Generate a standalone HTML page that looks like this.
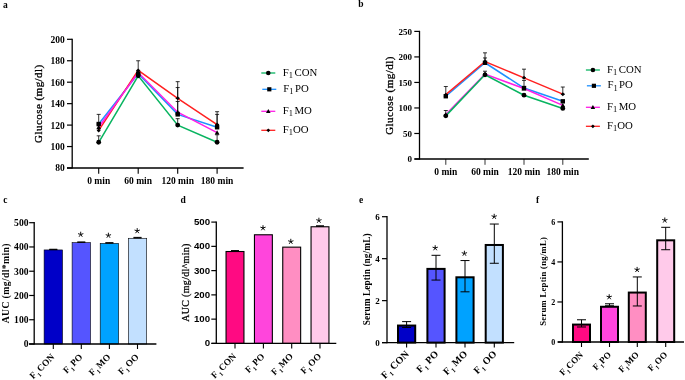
<!DOCTYPE html>
<html><head><meta charset="utf-8"><style>
html,body{margin:0;padding:0;background:#fff;width:685px;height:380px;overflow:hidden}
svg{display:block;will-change:transform;filter:blur(0.3px)}
</style></head><body>
<svg width="685" height="380" viewBox="0 0 685 380">
<rect width="685" height="380" fill="#fff"/>
<line x1="72.20" y1="38.70" x2="72.20" y2="168.60" stroke="#000" stroke-width="1.3" />
<line x1="67.00" y1="168.00" x2="243.60" y2="168.00" stroke="#000" stroke-width="1.3" />
<line x1="67.00" y1="168.00" x2="72.20" y2="168.00" stroke="#000" stroke-width="1.2" />
<text x="64.80" y="171.40" font-family='"Liberation Serif", serif' font-size="9.5" font-weight="bold" text-anchor="end" fill="#000" >80</text>
<line x1="67.00" y1="146.55" x2="72.20" y2="146.55" stroke="#000" stroke-width="1.2" />
<text x="64.80" y="149.95" font-family='"Liberation Serif", serif' font-size="9.5" font-weight="bold" text-anchor="end" fill="#000" >100</text>
<line x1="67.00" y1="125.10" x2="72.20" y2="125.10" stroke="#000" stroke-width="1.2" />
<text x="64.80" y="128.50" font-family='"Liberation Serif", serif' font-size="9.5" font-weight="bold" text-anchor="end" fill="#000" >120</text>
<line x1="67.00" y1="103.65" x2="72.20" y2="103.65" stroke="#000" stroke-width="1.2" />
<text x="64.80" y="107.05" font-family='"Liberation Serif", serif' font-size="9.5" font-weight="bold" text-anchor="end" fill="#000" >140</text>
<line x1="67.00" y1="82.20" x2="72.20" y2="82.20" stroke="#000" stroke-width="1.2" />
<text x="64.80" y="85.60" font-family='"Liberation Serif", serif' font-size="9.5" font-weight="bold" text-anchor="end" fill="#000" >160</text>
<line x1="67.00" y1="60.75" x2="72.20" y2="60.75" stroke="#000" stroke-width="1.2" />
<text x="64.80" y="64.15" font-family='"Liberation Serif", serif' font-size="9.5" font-weight="bold" text-anchor="end" fill="#000" >180</text>
<line x1="67.00" y1="39.30" x2="72.20" y2="39.30" stroke="#000" stroke-width="1.2" />
<text x="64.80" y="42.70" font-family='"Liberation Serif", serif' font-size="9.5" font-weight="bold" text-anchor="end" fill="#000" >200</text>
<line x1="98.70" y1="168.00" x2="98.70" y2="173.80" stroke="#000" stroke-width="1.1" />
<text x="98.70" y="183.60" font-family='"Liberation Serif", serif' font-size="9.5" font-weight="bold" text-anchor="middle" fill="#000" >0 min</text>
<line x1="138.20" y1="168.00" x2="138.20" y2="173.80" stroke="#000" stroke-width="1.1" />
<text x="138.20" y="183.60" font-family='"Liberation Serif", serif' font-size="9.5" font-weight="bold" text-anchor="middle" fill="#000" >60 min</text>
<line x1="177.70" y1="168.00" x2="177.70" y2="173.80" stroke="#000" stroke-width="1.1" />
<text x="177.70" y="183.60" font-family='"Liberation Serif", serif' font-size="9.5" font-weight="bold" text-anchor="middle" fill="#000" >120 min</text>
<line x1="217.10" y1="168.00" x2="217.10" y2="173.80" stroke="#000" stroke-width="1.1" />
<text x="217.10" y="183.60" font-family='"Liberation Serif", serif' font-size="9.5" font-weight="bold" text-anchor="middle" fill="#000" >180 min</text>
<text x="41.80" y="103.60" font-family='"Liberation Serif", serif' font-size="11.0" font-weight="normal" text-anchor="middle" fill="#000" transform="rotate(-90 41.8 103.6)" letter-spacing="0.45" stroke="#000" stroke-width="0.3">Glucose (mg/dl)</text>
<line x1="98.70" y1="135.82" x2="98.70" y2="142.26" stroke="#000" stroke-width="0.8" />
<line x1="96.70" y1="135.82" x2="100.70" y2="135.82" stroke="#000" stroke-width="0.8" />
<line x1="96.70" y1="142.26" x2="100.70" y2="142.26" stroke="#000" stroke-width="0.8" />
<line x1="138.20" y1="75.77" x2="138.20" y2="75.77" stroke="#000" stroke-width="0.8" />
<line x1="136.20" y1="75.77" x2="140.20" y2="75.77" stroke="#000" stroke-width="0.8" />
<line x1="136.20" y1="75.77" x2="140.20" y2="75.77" stroke="#000" stroke-width="0.8" />
<line x1="177.70" y1="118.66" x2="177.70" y2="125.10" stroke="#000" stroke-width="0.8" />
<line x1="175.70" y1="118.66" x2="179.70" y2="118.66" stroke="#000" stroke-width="0.8" />
<line x1="175.70" y1="125.10" x2="179.70" y2="125.10" stroke="#000" stroke-width="0.8" />
<line x1="217.10" y1="134.75" x2="217.10" y2="142.26" stroke="#000" stroke-width="0.8" />
<line x1="215.10" y1="134.75" x2="219.10" y2="134.75" stroke="#000" stroke-width="0.8" />
<line x1="215.10" y1="142.26" x2="219.10" y2="142.26" stroke="#000" stroke-width="0.8" />
<line x1="98.70" y1="114.38" x2="98.70" y2="124.03" stroke="#000" stroke-width="0.8" />
<line x1="96.70" y1="114.38" x2="100.70" y2="114.38" stroke="#000" stroke-width="0.8" />
<line x1="96.70" y1="124.03" x2="100.70" y2="124.03" stroke="#000" stroke-width="0.8" />
<line x1="138.20" y1="73.62" x2="138.20" y2="73.62" stroke="#000" stroke-width="0.8" />
<line x1="136.20" y1="73.62" x2="140.20" y2="73.62" stroke="#000" stroke-width="0.8" />
<line x1="136.20" y1="73.62" x2="140.20" y2="73.62" stroke="#000" stroke-width="0.8" />
<line x1="177.70" y1="101.51" x2="177.70" y2="114.38" stroke="#000" stroke-width="0.8" />
<line x1="175.70" y1="101.51" x2="179.70" y2="101.51" stroke="#000" stroke-width="0.8" />
<line x1="175.70" y1="114.38" x2="179.70" y2="114.38" stroke="#000" stroke-width="0.8" />
<line x1="217.10" y1="114.38" x2="217.10" y2="127.25" stroke="#000" stroke-width="0.8" />
<line x1="215.10" y1="114.38" x2="219.10" y2="114.38" stroke="#000" stroke-width="0.8" />
<line x1="215.10" y1="127.25" x2="219.10" y2="127.25" stroke="#000" stroke-width="0.8" />
<line x1="177.70" y1="87.56" x2="177.70" y2="112.23" stroke="#000" stroke-width="0.8" />
<line x1="175.70" y1="87.56" x2="179.70" y2="87.56" stroke="#000" stroke-width="0.8" />
<line x1="175.70" y1="112.23" x2="179.70" y2="112.23" stroke="#000" stroke-width="0.8" />
<line x1="138.20" y1="60.75" x2="138.20" y2="70.40" stroke="#000" stroke-width="0.8" />
<line x1="136.20" y1="60.75" x2="140.20" y2="60.75" stroke="#000" stroke-width="0.8" />
<line x1="136.20" y1="70.40" x2="140.20" y2="70.40" stroke="#000" stroke-width="0.8" />
<line x1="177.70" y1="81.66" x2="177.70" y2="98.29" stroke="#000" stroke-width="0.8" />
<line x1="175.70" y1="81.66" x2="179.70" y2="81.66" stroke="#000" stroke-width="0.8" />
<line x1="175.70" y1="98.29" x2="179.70" y2="98.29" stroke="#000" stroke-width="0.8" />
<line x1="217.10" y1="111.69" x2="217.10" y2="124.56" stroke="#000" stroke-width="0.8" />
<line x1="215.10" y1="111.69" x2="219.10" y2="111.69" stroke="#000" stroke-width="0.8" />
<line x1="215.10" y1="124.56" x2="219.10" y2="124.56" stroke="#000" stroke-width="0.8" />
<polyline points="98.70,124.03 138.20,73.62 177.70,114.38 217.10,127.25" fill="none" stroke="#1e90ff" stroke-width="1.5"/>
<polyline points="98.70,130.46 138.20,70.40 177.70,98.29 217.10,124.56" fill="none" stroke="#ff2020" stroke-width="1.5"/>
<polyline points="98.70,127.25 138.20,72.55 177.70,112.23 217.10,132.61" fill="none" stroke="#ff1ee6" stroke-width="1.5"/>
<polyline points="98.70,142.26 138.20,75.77 177.70,125.10 217.10,142.26" fill="none" stroke="#08b460" stroke-width="1.5"/>
<circle cx="98.70" cy="142.26" r="2.40" fill="#000"/>
<circle cx="138.20" cy="75.77" r="2.40" fill="#000"/>
<circle cx="177.70" cy="125.10" r="2.40" fill="#000"/>
<circle cx="217.10" cy="142.26" r="2.40" fill="#000"/>
<path d="M98.70,124.84 L101.10,129.16 L96.30,129.16 Z" fill="#000"/>
<path d="M138.20,70.15 L140.60,74.47 L135.80,74.47 Z" fill="#000"/>
<path d="M177.70,109.83 L180.10,114.15 L175.30,114.15 Z" fill="#000"/>
<path d="M217.10,130.21 L219.50,134.53 L214.70,134.53 Z" fill="#000"/>
<rect x="96.50" y="121.83" width="4.40" height="4.40" fill="#000"/>
<rect x="136.00" y="71.42" width="4.40" height="4.40" fill="#000"/>
<rect x="175.50" y="112.17" width="4.40" height="4.40" fill="#000"/>
<rect x="214.90" y="125.05" width="4.40" height="4.40" fill="#000"/>
<path d="M98.70,128.46 L100.70,130.46 L98.70,132.46 L96.70,130.46 Z" fill="#000"/>
<path d="M138.20,68.40 L140.20,70.40 L138.20,72.40 L136.20,70.40 Z" fill="#000"/>
<path d="M177.70,96.29 L179.70,98.29 L177.70,100.29 L175.70,98.29 Z" fill="#000"/>
<path d="M217.10,122.56 L219.10,124.56 L217.10,126.56 L215.10,124.56 Z" fill="#000"/>
<line x1="261.30" y1="73.00" x2="275.30" y2="73.00" stroke="#08b460" stroke-width="1.3" />
<circle cx="268.30" cy="73.00" r="2.28" fill="#000"/>
<text x="282.80" y="75.60" font-family='"Liberation Serif", serif' font-size="10.8">F<tspan font-size="8.42" dy="2.5">1</tspan><tspan dy="-2.5" dx="1.5">CON</tspan></text>
<line x1="262.30" y1="89.30" x2="276.30" y2="89.30" stroke="#1e90ff" stroke-width="1.3" />
<rect x="267.21" y="87.21" width="4.18" height="4.18" fill="#000"/>
<text x="283.20" y="91.90" font-family='"Liberation Serif", serif' font-size="10.8">F<tspan font-size="8.42" dy="2.5">1</tspan><tspan dy="-2.5" dx="1.5">PO</tspan></text>
<line x1="261.30" y1="111.30" x2="275.30" y2="111.30" stroke="#ff1ee6" stroke-width="1.3" />
<path d="M268.30,109.02 L270.58,113.12 L266.02,113.12 Z" fill="#000"/>
<text x="282.80" y="113.90" font-family='"Liberation Serif", serif' font-size="10.8">F<tspan font-size="8.42" dy="2.5">1</tspan><tspan dy="-2.5" dx="1.5">MO</tspan></text>
<line x1="261.30" y1="130.30" x2="275.30" y2="130.30" stroke="#ff2020" stroke-width="1.3" />
<path d="M268.30,128.40 L270.20,130.30 L268.30,132.20 L266.40,130.30 Z" fill="#000"/>
<text x="282.80" y="132.90" font-family='"Liberation Serif", serif' font-size="10.8">F<tspan font-size="8.42" dy="2.5">1</tspan><tspan dy="-2.5">OO</tspan></text>
<line x1="419.50" y1="30.80" x2="419.50" y2="159.60" stroke="#000" stroke-width="1.3" />
<line x1="414.50" y1="159.00" x2="588.80" y2="159.00" stroke="#000" stroke-width="1.3" />
<line x1="414.30" y1="159.00" x2="419.50" y2="159.00" stroke="#000" stroke-width="1.2" />
<text x="412.10" y="162.40" font-family='"Liberation Serif", serif' font-size="9.0" font-weight="bold" text-anchor="end" fill="#000" >0</text>
<line x1="414.30" y1="133.48" x2="419.50" y2="133.48" stroke="#000" stroke-width="1.2" />
<text x="412.10" y="136.88" font-family='"Liberation Serif", serif' font-size="9.0" font-weight="bold" text-anchor="end" fill="#000" >50</text>
<line x1="414.30" y1="107.96" x2="419.50" y2="107.96" stroke="#000" stroke-width="1.2" />
<text x="412.10" y="111.36" font-family='"Liberation Serif", serif' font-size="9.0" font-weight="bold" text-anchor="end" fill="#000" >100</text>
<line x1="414.30" y1="82.44" x2="419.50" y2="82.44" stroke="#000" stroke-width="1.2" />
<text x="412.10" y="85.84" font-family='"Liberation Serif", serif' font-size="9.0" font-weight="bold" text-anchor="end" fill="#000" >150</text>
<line x1="414.30" y1="56.92" x2="419.50" y2="56.92" stroke="#000" stroke-width="1.2" />
<text x="412.10" y="60.32" font-family='"Liberation Serif", serif' font-size="9.0" font-weight="bold" text-anchor="end" fill="#000" >200</text>
<line x1="414.30" y1="31.40" x2="419.50" y2="31.40" stroke="#000" stroke-width="1.2" />
<text x="412.10" y="34.80" font-family='"Liberation Serif", serif' font-size="9.0" font-weight="bold" text-anchor="end" fill="#000" >250</text>
<line x1="445.80" y1="159.00" x2="445.80" y2="164.80" stroke="#000" stroke-width="0.8" />
<text x="445.80" y="174.60" font-family='"Liberation Serif", serif' font-size="9.5" font-weight="bold" text-anchor="middle" fill="#000" >0 min</text>
<line x1="485.00" y1="159.00" x2="485.00" y2="164.80" stroke="#000" stroke-width="0.8" />
<text x="485.00" y="174.60" font-family='"Liberation Serif", serif' font-size="9.5" font-weight="bold" text-anchor="middle" fill="#000" >60 min</text>
<line x1="524.00" y1="159.00" x2="524.00" y2="164.80" stroke="#000" stroke-width="0.8" />
<text x="524.00" y="174.60" font-family='"Liberation Serif", serif' font-size="9.5" font-weight="bold" text-anchor="middle" fill="#000" >120 min</text>
<line x1="562.80" y1="159.00" x2="562.80" y2="164.80" stroke="#000" stroke-width="0.8" />
<text x="562.80" y="174.60" font-family='"Liberation Serif", serif' font-size="9.5" font-weight="bold" text-anchor="middle" fill="#000" >180 min</text>
<text x="392.50" y="95.50" font-family='"Liberation Serif", serif' font-size="11.0" font-weight="normal" text-anchor="middle" fill="#000" transform="rotate(-90 392.5 95.5)" letter-spacing="0.45" stroke="#000" stroke-width="0.3">Glucose (mg/dl)</text>
<line x1="445.80" y1="110.51" x2="445.80" y2="115.87" stroke="#000" stroke-width="0.8" />
<line x1="443.80" y1="110.51" x2="447.80" y2="110.51" stroke="#000" stroke-width="0.8" />
<line x1="443.80" y1="115.87" x2="447.80" y2="115.87" stroke="#000" stroke-width="0.8" />
<line x1="485.00" y1="71.21" x2="485.00" y2="74.78" stroke="#000" stroke-width="0.8" />
<line x1="483.00" y1="71.21" x2="487.00" y2="71.21" stroke="#000" stroke-width="0.8" />
<line x1="483.00" y1="74.78" x2="487.00" y2="74.78" stroke="#000" stroke-width="0.8" />
<line x1="445.80" y1="86.52" x2="445.80" y2="96.22" stroke="#000" stroke-width="0.8" />
<line x1="443.80" y1="86.52" x2="447.80" y2="86.52" stroke="#000" stroke-width="0.8" />
<line x1="443.80" y1="96.22" x2="447.80" y2="96.22" stroke="#000" stroke-width="0.8" />
<line x1="485.00" y1="57.94" x2="485.00" y2="62.79" stroke="#000" stroke-width="0.8" />
<line x1="483.00" y1="57.94" x2="487.00" y2="57.94" stroke="#000" stroke-width="0.8" />
<line x1="483.00" y1="62.79" x2="487.00" y2="62.79" stroke="#000" stroke-width="0.8" />
<line x1="524.00" y1="80.40" x2="524.00" y2="88.05" stroke="#000" stroke-width="0.8" />
<line x1="522.00" y1="80.40" x2="526.00" y2="80.40" stroke="#000" stroke-width="0.8" />
<line x1="522.00" y1="88.05" x2="526.00" y2="88.05" stroke="#000" stroke-width="0.8" />
<line x1="485.00" y1="52.84" x2="485.00" y2="61.51" stroke="#000" stroke-width="0.8" />
<line x1="483.00" y1="52.84" x2="487.00" y2="52.84" stroke="#000" stroke-width="0.8" />
<line x1="483.00" y1="61.51" x2="487.00" y2="61.51" stroke="#000" stroke-width="0.8" />
<line x1="524.00" y1="69.17" x2="524.00" y2="77.85" stroke="#000" stroke-width="0.8" />
<line x1="522.00" y1="69.17" x2="526.00" y2="69.17" stroke="#000" stroke-width="0.8" />
<line x1="522.00" y1="77.85" x2="526.00" y2="77.85" stroke="#000" stroke-width="0.8" />
<line x1="562.80" y1="87.03" x2="562.80" y2="94.18" stroke="#000" stroke-width="0.8" />
<line x1="560.80" y1="87.03" x2="564.80" y2="87.03" stroke="#000" stroke-width="0.8" />
<line x1="560.80" y1="94.18" x2="564.80" y2="94.18" stroke="#000" stroke-width="0.8" />
<polyline points="445.80,96.22 485.00,62.79 524.00,88.05 562.80,101.32" fill="none" stroke="#1e90ff" stroke-width="1.5"/>
<polyline points="445.80,94.69 485.00,61.51 524.00,77.85 562.80,94.18" fill="none" stroke="#ff2020" stroke-width="1.5"/>
<polyline points="445.80,114.60 485.00,74.02 524.00,88.56 562.80,105.41" fill="none" stroke="#ff1ee6" stroke-width="1.5"/>
<polyline points="445.80,115.87 485.00,74.78 524.00,95.20 562.80,108.47" fill="none" stroke="#08b460" stroke-width="1.5"/>
<circle cx="445.80" cy="115.87" r="2.40" fill="#000"/>
<circle cx="485.00" cy="74.78" r="2.40" fill="#000"/>
<circle cx="524.00" cy="95.20" r="2.40" fill="#000"/>
<circle cx="562.80" cy="108.47" r="2.40" fill="#000"/>
<path d="M445.80,112.20 L448.20,116.52 L443.40,116.52 Z" fill="#000"/>
<path d="M485.00,71.62 L487.40,75.94 L482.60,75.94 Z" fill="#000"/>
<path d="M524.00,86.16 L526.40,90.48 L521.60,90.48 Z" fill="#000"/>
<path d="M562.80,103.01 L565.20,107.33 L560.40,107.33 Z" fill="#000"/>
<rect x="443.60" y="94.02" width="4.40" height="4.40" fill="#000"/>
<rect x="482.80" y="60.59" width="4.40" height="4.40" fill="#000"/>
<rect x="521.80" y="85.85" width="4.40" height="4.40" fill="#000"/>
<rect x="560.60" y="99.12" width="4.40" height="4.40" fill="#000"/>
<path d="M445.80,92.69 L447.80,94.69 L445.80,96.69 L443.80,94.69 Z" fill="#000"/>
<path d="M485.00,59.51 L487.00,61.51 L485.00,63.51 L483.00,61.51 Z" fill="#000"/>
<path d="M524.00,75.85 L526.00,77.85 L524.00,79.85 L522.00,77.85 Z" fill="#000"/>
<path d="M562.80,92.18 L564.80,94.18 L562.80,96.18 L560.80,94.18 Z" fill="#000"/>
<line x1="585.90" y1="70.00" x2="599.90" y2="70.00" stroke="#08b460" stroke-width="1.3" />
<circle cx="592.90" cy="70.00" r="2.28" fill="#000"/>
<text x="607.00" y="72.60" font-family='"Liberation Serif", serif' font-size="10.8">F<tspan font-size="8.42" dy="2.5">1</tspan><tspan dy="-2.5" dx="1.5">CON</tspan></text>
<line x1="586.90" y1="85.80" x2="600.90" y2="85.80" stroke="#1e90ff" stroke-width="1.3" />
<rect x="591.81" y="83.71" width="4.18" height="4.18" fill="#000"/>
<text x="607.40" y="88.40" font-family='"Liberation Serif", serif' font-size="10.8">F<tspan font-size="8.42" dy="2.5">1</tspan><tspan dy="-2.5" dx="1.5">PO</tspan></text>
<line x1="585.90" y1="107.30" x2="599.90" y2="107.30" stroke="#ff1ee6" stroke-width="1.3" />
<path d="M592.90,105.02 L595.18,109.12 L590.62,109.12 Z" fill="#000"/>
<text x="607.00" y="109.90" font-family='"Liberation Serif", serif' font-size="10.8">F<tspan font-size="8.42" dy="2.5">1</tspan><tspan dy="-2.5" dx="1.5">MO</tspan></text>
<line x1="585.90" y1="126.30" x2="599.90" y2="126.30" stroke="#ff2020" stroke-width="1.3" />
<path d="M592.90,124.40 L594.80,126.30 L592.90,128.20 L591.00,126.30 Z" fill="#000"/>
<text x="607.00" y="128.90" font-family='"Liberation Serif", serif' font-size="10.8">F<tspan font-size="8.42" dy="2.5">1</tspan><tspan dy="-2.5">OO</tspan></text>
<rect x="44.10" y="249.93" width="18.40" height="94.07" fill="#0000c8" stroke="#000" stroke-width="0.6"/>
<line x1="53.30" y1="249.26" x2="53.30" y2="249.63" stroke="#000" stroke-width="1.0" />
<line x1="49.30" y1="249.26" x2="57.30" y2="249.26" stroke="#000" stroke-width="1.0" />
<line x1="49.30" y1="249.63" x2="57.30" y2="249.63" stroke="#000" stroke-width="1.0" />
<rect x="72.10" y="242.65" width="18.40" height="101.35" fill="#5555ff" stroke="#000" stroke-width="0.6"/>
<line x1="81.30" y1="241.99" x2="81.30" y2="242.35" stroke="#000" stroke-width="1.0" />
<line x1="77.30" y1="241.99" x2="85.30" y2="241.99" stroke="#000" stroke-width="1.0" />
<line x1="77.30" y1="242.35" x2="85.30" y2="242.35" stroke="#000" stroke-width="1.0" />
<path d="M80.70,234.50 L80.70,232.10 M80.70,234.50 L82.98,233.76 M80.70,234.50 L82.11,236.44 M80.70,234.50 L79.29,236.44 M80.70,234.50 L78.42,233.76 " stroke="#111" stroke-width="1.0" stroke-linecap="round" fill="none"/>
<rect x="100.20" y="243.38" width="18.40" height="100.62" fill="#00a2ff" stroke="#000" stroke-width="0.6"/>
<line x1="109.40" y1="242.71" x2="109.40" y2="243.08" stroke="#000" stroke-width="1.0" />
<line x1="105.40" y1="242.71" x2="113.40" y2="242.71" stroke="#000" stroke-width="1.0" />
<line x1="105.40" y1="243.08" x2="113.40" y2="243.08" stroke="#000" stroke-width="1.0" />
<path d="M108.40,235.50 L108.40,233.10 M108.40,235.50 L110.68,234.76 M108.40,235.50 L109.81,237.44 M108.40,235.50 L106.99,237.44 M108.40,235.50 L106.12,234.76 " stroke="#111" stroke-width="1.0" stroke-linecap="round" fill="none"/>
<rect x="128.30" y="238.28" width="18.40" height="105.72" fill="#c2e0ff" stroke="#000" stroke-width="0.6"/>
<line x1="137.50" y1="237.38" x2="137.50" y2="237.98" stroke="#000" stroke-width="1.0" />
<line x1="133.50" y1="237.38" x2="141.50" y2="237.38" stroke="#000" stroke-width="1.0" />
<line x1="133.50" y1="237.98" x2="141.50" y2="237.98" stroke="#000" stroke-width="1.0" />
<path d="M137.20,230.90 L137.20,228.50 M137.20,230.90 L139.48,230.16 M137.20,230.90 L138.61,232.84 M137.20,230.90 L135.79,232.84 M137.20,230.90 L134.92,230.16 " stroke="#111" stroke-width="1.0" stroke-linecap="round" fill="none"/>
<line x1="34.20" y1="222.10" x2="34.20" y2="344.60" stroke="#000" stroke-width="1.3" />
<line x1="29.00" y1="344.00" x2="156.40" y2="344.00" stroke="#000" stroke-width="1.3" />
<line x1="29.20" y1="344.00" x2="34.20" y2="344.00" stroke="#000" stroke-width="1.2" />
<text x="28.50" y="347.40" font-family='"Liberation Serif", serif' font-size="9.6" font-weight="bold" text-anchor="end" fill="#000" >0</text>
<line x1="29.20" y1="319.74" x2="34.20" y2="319.74" stroke="#000" stroke-width="1.2" />
<text x="28.50" y="323.14" font-family='"Liberation Serif", serif' font-size="9.6" font-weight="bold" text-anchor="end" fill="#000" >100</text>
<line x1="29.20" y1="295.48" x2="34.20" y2="295.48" stroke="#000" stroke-width="1.2" />
<text x="28.50" y="298.88" font-family='"Liberation Serif", serif' font-size="9.6" font-weight="bold" text-anchor="end" fill="#000" >200</text>
<line x1="29.20" y1="271.22" x2="34.20" y2="271.22" stroke="#000" stroke-width="1.2" />
<text x="28.50" y="274.62" font-family='"Liberation Serif", serif' font-size="9.6" font-weight="bold" text-anchor="end" fill="#000" >300</text>
<line x1="29.20" y1="246.96" x2="34.20" y2="246.96" stroke="#000" stroke-width="1.2" />
<text x="28.50" y="250.36" font-family='"Liberation Serif", serif' font-size="9.6" font-weight="bold" text-anchor="end" fill="#000" >400</text>
<line x1="29.20" y1="222.70" x2="34.20" y2="222.70" stroke="#000" stroke-width="1.2" />
<text x="28.50" y="226.10" font-family='"Liberation Serif", serif' font-size="9.6" font-weight="bold" text-anchor="end" fill="#000" >500</text>
<line x1="53.30" y1="344.00" x2="53.30" y2="349.00" stroke="#000" stroke-width="1.1" />
<text x="55.10" y="357.60" font-family='"Liberation Serif", serif' font-size="9.3" font-weight="bold" text-anchor="end" transform="rotate(-45 55.10 357.60)">F<tspan font-size="6.14" dy="3.0" dx="0.6">1</tspan><tspan dy="-3.0" dx="1.0">CON</tspan></text>
<line x1="81.30" y1="344.00" x2="81.30" y2="349.00" stroke="#000" stroke-width="1.1" />
<text x="83.10" y="357.60" font-family='"Liberation Serif", serif' font-size="9.3" font-weight="bold" text-anchor="end" transform="rotate(-45 83.10 357.60)">F<tspan font-size="6.14" dy="3.0" dx="0.6">1</tspan><tspan dy="-3.0" dx="1.0">PO</tspan></text>
<line x1="109.40" y1="344.00" x2="109.40" y2="349.00" stroke="#000" stroke-width="1.1" />
<text x="111.20" y="357.60" font-family='"Liberation Serif", serif' font-size="9.3" font-weight="bold" text-anchor="end" transform="rotate(-45 111.20 357.60)">F<tspan font-size="6.14" dy="3.0" dx="0.6">1</tspan><tspan dy="-3.0" dx="1.0">MO</tspan></text>
<line x1="137.50" y1="344.00" x2="137.50" y2="349.00" stroke="#000" stroke-width="1.1" />
<text x="139.30" y="357.60" font-family='"Liberation Serif", serif' font-size="9.3" font-weight="bold" text-anchor="end" transform="rotate(-45 139.30 357.60)">F<tspan font-size="6.14" dy="3.0" dx="0.6">1</tspan><tspan dy="-3.0" dx="1.0">OO</tspan></text>
<text x="8.60" y="283.20" font-family='"Liberation Serif", serif' font-size="9.7" font-weight="bold" text-anchor="middle" fill="#000" transform="rotate(-90 8.6 283.2)" letter-spacing="0.38">AUC (mg/dl*min)</text>
<rect x="226.05" y="251.52" width="17.90" height="91.88" fill="#ff0a82" stroke="#000" stroke-width="1.1"/>
<line x1="235.00" y1="250.61" x2="235.00" y2="250.97" stroke="#000" stroke-width="1.0" />
<line x1="231.00" y1="250.61" x2="239.00" y2="250.61" stroke="#000" stroke-width="1.0" />
<line x1="231.00" y1="250.97" x2="239.00" y2="250.97" stroke="#000" stroke-width="1.0" />
<rect x="254.45" y="234.78" width="17.90" height="108.62" fill="#ff45dc" stroke="#000" stroke-width="1.1"/>
<path d="M263.00,228.00 L263.00,225.60 M263.00,228.00 L265.28,227.26 M263.00,228.00 L264.41,229.94 M263.00,228.00 L261.59,229.94 M263.00,228.00 L260.72,227.26 " stroke="#111" stroke-width="1.0" stroke-linecap="round" fill="none"/>
<rect x="282.75" y="247.15" width="17.90" height="96.25" fill="#ff8ec2" stroke="#000" stroke-width="1.1"/>
<path d="M290.80,241.60 L290.80,239.20 M290.80,241.60 L293.08,240.86 M290.80,241.60 L292.21,243.54 M290.80,241.60 L289.39,243.54 M290.80,241.60 L288.52,240.86 " stroke="#111" stroke-width="1.0" stroke-linecap="round" fill="none"/>
<rect x="311.05" y="226.77" width="17.90" height="116.63" fill="#ffcaea" stroke="#000" stroke-width="1.1"/>
<line x1="320.00" y1="225.86" x2="320.00" y2="226.22" stroke="#000" stroke-width="1.0" />
<line x1="316.00" y1="225.86" x2="324.00" y2="225.86" stroke="#000" stroke-width="1.0" />
<line x1="316.00" y1="226.22" x2="324.00" y2="226.22" stroke="#000" stroke-width="1.0" />
<path d="M318.90,220.50 L318.90,218.10 M318.90,220.50 L321.18,219.76 M318.90,220.50 L320.31,222.44 M318.90,220.50 L317.49,222.44 M318.90,220.50 L316.62,219.76 " stroke="#111" stroke-width="1.0" stroke-linecap="round" fill="none"/>
<line x1="216.30" y1="221.50" x2="216.30" y2="344.00" stroke="#000" stroke-width="1.3" />
<line x1="211.50" y1="343.40" x2="336.30" y2="343.40" stroke="#000" stroke-width="1.3" />
<line x1="211.30" y1="343.40" x2="216.30" y2="343.40" stroke="#000" stroke-width="1.2" />
<text x="210.10" y="346.30" font-family='"Liberation Sans", sans-serif' font-size="9.7" font-weight="bold" text-anchor="end" fill="#000" >0</text>
<line x1="211.30" y1="319.14" x2="216.30" y2="319.14" stroke="#000" stroke-width="1.2" />
<text x="210.10" y="322.04" font-family='"Liberation Sans", sans-serif' font-size="9.7" font-weight="bold" text-anchor="end" fill="#000" >100</text>
<line x1="211.30" y1="294.88" x2="216.30" y2="294.88" stroke="#000" stroke-width="1.2" />
<text x="210.10" y="297.78" font-family='"Liberation Sans", sans-serif' font-size="9.7" font-weight="bold" text-anchor="end" fill="#000" >200</text>
<line x1="211.30" y1="270.62" x2="216.30" y2="270.62" stroke="#000" stroke-width="1.2" />
<text x="210.10" y="273.52" font-family='"Liberation Sans", sans-serif' font-size="9.7" font-weight="bold" text-anchor="end" fill="#000" >300</text>
<line x1="211.30" y1="246.36" x2="216.30" y2="246.36" stroke="#000" stroke-width="1.2" />
<text x="210.10" y="249.26" font-family='"Liberation Sans", sans-serif' font-size="9.7" font-weight="bold" text-anchor="end" fill="#000" >400</text>
<line x1="211.30" y1="222.10" x2="216.30" y2="222.10" stroke="#000" stroke-width="1.2" />
<text x="210.10" y="225.00" font-family='"Liberation Sans", sans-serif' font-size="9.7" font-weight="bold" text-anchor="end" fill="#000" >500</text>
<line x1="235.00" y1="343.40" x2="235.00" y2="348.40" stroke="#000" stroke-width="1.1" />
<text x="236.80" y="357.00" font-family='"Liberation Serif", serif' font-size="9.3" font-weight="bold" text-anchor="end" transform="rotate(-45 236.80 357.00)">F<tspan font-size="6.14" dy="3.0" dx="0.6">1</tspan><tspan dy="-3.0" dx="1.0">CON</tspan></text>
<line x1="263.40" y1="343.40" x2="263.40" y2="348.40" stroke="#000" stroke-width="1.1" />
<text x="265.20" y="357.00" font-family='"Liberation Serif", serif' font-size="9.3" font-weight="bold" text-anchor="end" transform="rotate(-45 265.20 357.00)">F<tspan font-size="6.14" dy="3.0" dx="0.6">1</tspan><tspan dy="-3.0" dx="1.0">PO</tspan></text>
<line x1="291.70" y1="343.40" x2="291.70" y2="348.40" stroke="#000" stroke-width="1.1" />
<text x="293.50" y="357.00" font-family='"Liberation Serif", serif' font-size="9.3" font-weight="bold" text-anchor="end" transform="rotate(-45 293.50 357.00)">F<tspan font-size="6.14" dy="3.0" dx="0.6">1</tspan><tspan dy="-3.0" dx="1.0">MO</tspan></text>
<line x1="320.00" y1="343.40" x2="320.00" y2="348.40" stroke="#000" stroke-width="1.1" />
<text x="321.80" y="357.00" font-family='"Liberation Serif", serif' font-size="9.3" font-weight="bold" text-anchor="end" transform="rotate(-45 321.80 357.00)">F<tspan font-size="6.14" dy="3.0" dx="0.6">1</tspan><tspan dy="-3.0" dx="1.0">OO</tspan></text>
<text x="188.60" y="282.50" font-family='"Liberation Serif", serif' font-size="10.0" font-weight="normal" text-anchor="middle" fill="#000" transform="rotate(-90 188.6 282.5)" letter-spacing="0.3" stroke="#000" stroke-width="0.25">AUC (mg/dl^min)</text>
<rect x="398.00" y="325.55" width="17.20" height="17.05" fill="#0000c8" stroke="#000" stroke-width="2.0"/>
<line x1="406.60" y1="321.62" x2="406.60" y2="327.49" stroke="#000" stroke-width="1.0" />
<line x1="402.10" y1="321.62" x2="411.10" y2="321.62" stroke="#000" stroke-width="1.0" />
<line x1="402.10" y1="327.49" x2="411.10" y2="327.49" stroke="#000" stroke-width="1.0" />
<rect x="427.40" y="268.90" width="17.20" height="73.70" fill="#5555ff" stroke="#000" stroke-width="2.0"/>
<line x1="436.00" y1="255.31" x2="436.00" y2="280.07" stroke="#000" stroke-width="1.0" />
<line x1="431.50" y1="255.31" x2="440.50" y2="255.31" stroke="#000" stroke-width="1.0" />
<line x1="431.50" y1="280.07" x2="440.50" y2="280.07" stroke="#000" stroke-width="1.0" />
<path d="M435.20,248.00 L435.20,245.60 M435.20,248.00 L437.48,247.26 M435.20,248.00 L436.61,249.94 M435.20,248.00 L433.79,249.94 M435.20,248.00 L432.92,247.26 " stroke="#111" stroke-width="1.0" stroke-linecap="round" fill="none"/>
<rect x="456.40" y="277.29" width="17.20" height="65.31" fill="#00a2ff" stroke="#000" stroke-width="2.0"/>
<line x1="465.00" y1="260.56" x2="465.00" y2="291.82" stroke="#000" stroke-width="1.0" />
<line x1="460.50" y1="260.56" x2="469.50" y2="260.56" stroke="#000" stroke-width="1.0" />
<line x1="460.50" y1="291.82" x2="469.50" y2="291.82" stroke="#000" stroke-width="1.0" />
<path d="M464.40,253.50 L464.40,251.10 M464.40,253.50 L466.68,252.76 M464.40,253.50 L465.81,255.44 M464.40,253.50 L462.99,255.44 M464.40,253.50 L462.12,252.76 " stroke="#111" stroke-width="1.0" stroke-linecap="round" fill="none"/>
<rect x="485.70" y="244.98" width="17.20" height="97.62" fill="#c2e0ff" stroke="#000" stroke-width="2.0"/>
<line x1="494.30" y1="224.04" x2="494.30" y2="263.28" stroke="#000" stroke-width="1.0" />
<line x1="489.80" y1="224.04" x2="498.80" y2="224.04" stroke="#000" stroke-width="1.0" />
<line x1="489.80" y1="263.28" x2="498.80" y2="263.28" stroke="#000" stroke-width="1.0" />
<path d="M494.20,216.60 L494.20,214.20 M494.20,216.60 L496.48,215.86 M494.20,216.60 L495.61,218.54 M494.20,216.60 L492.79,218.54 M494.20,216.60 L491.92,215.86 " stroke="#111" stroke-width="1.0" stroke-linecap="round" fill="none"/>
<line x1="387.00" y1="216.10" x2="387.00" y2="343.20" stroke="#000" stroke-width="1.3" />
<line x1="382.00" y1="342.60" x2="514.20" y2="342.60" stroke="#000" stroke-width="1.3" />
<line x1="382.00" y1="342.60" x2="387.00" y2="342.60" stroke="#000" stroke-width="1.2" />
<text x="379.80" y="345.80" font-family='"Liberation Serif", serif' font-size="9.0" font-weight="bold" text-anchor="end" fill="#000" >0</text>
<line x1="382.00" y1="300.63" x2="387.00" y2="300.63" stroke="#000" stroke-width="1.2" />
<text x="379.80" y="303.83" font-family='"Liberation Serif", serif' font-size="9.0" font-weight="bold" text-anchor="end" fill="#000" >2</text>
<line x1="382.00" y1="258.67" x2="387.00" y2="258.67" stroke="#000" stroke-width="1.2" />
<text x="379.80" y="261.87" font-family='"Liberation Serif", serif' font-size="9.0" font-weight="bold" text-anchor="end" fill="#000" >4</text>
<line x1="382.00" y1="216.70" x2="387.00" y2="216.70" stroke="#000" stroke-width="1.2" />
<text x="379.80" y="219.90" font-family='"Liberation Serif", serif' font-size="9.0" font-weight="bold" text-anchor="end" fill="#000" >6</text>
<line x1="406.60" y1="342.60" x2="406.60" y2="347.60" stroke="#000" stroke-width="1.1" />
<text x="409.60" y="354.60" font-family='"Liberation Serif", serif' font-size="10.0" font-weight="bold" text-anchor="end" transform="rotate(-45 409.60 354.60)">F<tspan font-size="6.60" dy="3.0" dx="0.6">1</tspan><tspan dy="-3.0" dx="2.5">CON</tspan></text>
<line x1="436.00" y1="342.60" x2="436.00" y2="347.60" stroke="#000" stroke-width="1.1" />
<text x="439.00" y="354.60" font-family='"Liberation Serif", serif' font-size="10.0" font-weight="bold" text-anchor="end" transform="rotate(-45 439.00 354.60)">F<tspan font-size="6.60" dy="3.0" dx="0.6">1</tspan><tspan dy="-3.0" dx="2.5">PO</tspan></text>
<line x1="465.00" y1="342.60" x2="465.00" y2="347.60" stroke="#000" stroke-width="1.1" />
<text x="468.00" y="354.60" font-family='"Liberation Serif", serif' font-size="10.0" font-weight="bold" text-anchor="end" transform="rotate(-45 468.00 354.60)">F<tspan font-size="6.60" dy="3.0" dx="0.6">1</tspan><tspan dy="-3.0" dx="2.5">MO</tspan></text>
<line x1="494.30" y1="342.60" x2="494.30" y2="347.60" stroke="#000" stroke-width="1.1" />
<text x="497.30" y="354.60" font-family='"Liberation Serif", serif' font-size="10.0" font-weight="bold" text-anchor="end" transform="rotate(-45 497.30 354.60)">F<tspan font-size="6.60" dy="3.0" dx="0.6">1</tspan><tspan dy="-3.0" dx="2.5">OO</tspan></text>
<text x="369.80" y="279.30" font-family='"Liberation Serif", serif' font-size="9.3" font-weight="bold" text-anchor="middle" fill="#000" transform="rotate(-90 369.8 279.3)" letter-spacing="0.1">Serum Leptin (ng/mL)</text>
<rect x="573.00" y="324.58" width="17.00" height="17.42" fill="#ff0a82" stroke="#000" stroke-width="2.0"/>
<line x1="581.50" y1="319.78" x2="581.50" y2="326.99" stroke="#000" stroke-width="1.0" />
<line x1="577.00" y1="319.78" x2="586.00" y2="319.78" stroke="#000" stroke-width="1.0" />
<line x1="577.00" y1="326.99" x2="586.00" y2="326.99" stroke="#000" stroke-width="1.0" />
<rect x="601.00" y="306.77" width="17.00" height="35.23" fill="#ff45dc" stroke="#000" stroke-width="2.0"/>
<line x1="609.50" y1="303.77" x2="609.50" y2="305.77" stroke="#000" stroke-width="1.0" />
<line x1="605.00" y1="303.77" x2="614.00" y2="303.77" stroke="#000" stroke-width="1.0" />
<line x1="605.00" y1="305.77" x2="614.00" y2="305.77" stroke="#000" stroke-width="1.0" />
<path d="M609.20,297.00 L609.20,294.60 M609.20,297.00 L611.48,296.26 M609.20,297.00 L610.61,298.94 M609.20,297.00 L607.79,298.94 M609.20,297.00 L606.92,296.26 " stroke="#111" stroke-width="1.0" stroke-linecap="round" fill="none"/>
<rect x="628.80" y="292.56" width="17.00" height="49.44" fill="#ff8ec2" stroke="#000" stroke-width="2.0"/>
<line x1="637.30" y1="276.95" x2="637.30" y2="305.97" stroke="#000" stroke-width="1.0" />
<line x1="632.80" y1="276.95" x2="641.80" y2="276.95" stroke="#000" stroke-width="1.0" />
<line x1="632.80" y1="305.97" x2="641.80" y2="305.97" stroke="#000" stroke-width="1.0" />
<path d="M637.10,269.70 L637.10,267.30 M637.10,269.70 L639.38,268.96 M637.10,269.70 L638.51,271.64 M637.10,269.70 L635.69,271.64 M637.10,269.70 L634.82,268.96 " stroke="#111" stroke-width="1.0" stroke-linecap="round" fill="none"/>
<rect x="657.20" y="240.31" width="17.00" height="101.69" fill="#ffcaea" stroke="#000" stroke-width="2.0"/>
<line x1="665.70" y1="227.30" x2="665.70" y2="249.72" stroke="#000" stroke-width="1.0" />
<line x1="661.20" y1="227.30" x2="670.20" y2="227.30" stroke="#000" stroke-width="1.0" />
<line x1="661.20" y1="249.72" x2="670.20" y2="249.72" stroke="#000" stroke-width="1.0" />
<path d="M664.80,220.30 L664.80,217.90 M664.80,220.30 L667.08,219.56 M664.80,220.30 L666.21,222.24 M664.80,220.30 L663.39,222.24 M664.80,220.30 L662.52,219.56 " stroke="#111" stroke-width="1.0" stroke-linecap="round" fill="none"/>
<line x1="562.40" y1="221.30" x2="562.40" y2="342.60" stroke="#000" stroke-width="1.3" />
<line x1="558.00" y1="342.00" x2="684.00" y2="342.00" stroke="#000" stroke-width="1.3" />
<line x1="557.40" y1="342.00" x2="562.40" y2="342.00" stroke="#000" stroke-width="1.2" />
<text x="555.20" y="344.90" font-family='"Liberation Serif", serif' font-size="8.0" font-weight="bold" text-anchor="end" fill="#000" >0</text>
<line x1="557.40" y1="301.97" x2="562.40" y2="301.97" stroke="#000" stroke-width="1.2" />
<text x="555.20" y="304.87" font-family='"Liberation Serif", serif' font-size="8.0" font-weight="bold" text-anchor="end" fill="#000" >2</text>
<line x1="557.40" y1="261.93" x2="562.40" y2="261.93" stroke="#000" stroke-width="1.2" />
<text x="555.20" y="264.83" font-family='"Liberation Serif", serif' font-size="8.0" font-weight="bold" text-anchor="end" fill="#000" >4</text>
<line x1="557.40" y1="221.90" x2="562.40" y2="221.90" stroke="#000" stroke-width="1.2" />
<text x="555.20" y="224.80" font-family='"Liberation Serif", serif' font-size="8.0" font-weight="bold" text-anchor="end" fill="#000" >6</text>
<line x1="581.50" y1="342.00" x2="581.50" y2="347.00" stroke="#000" stroke-width="1.1" />
<text x="583.70" y="355.30" font-family='"Liberation Serif", serif' font-size="9.0" font-weight="bold" text-anchor="end" transform="rotate(-45 583.70 355.30)">F<tspan font-size="5.94" dy="3.0" dx="0.6">1</tspan><tspan dy="-3.0" dx="0.3">CON</tspan></text>
<line x1="609.50" y1="342.00" x2="609.50" y2="347.00" stroke="#000" stroke-width="1.1" />
<text x="611.70" y="355.30" font-family='"Liberation Serif", serif' font-size="9.0" font-weight="bold" text-anchor="end" transform="rotate(-45 611.70 355.30)">F<tspan font-size="5.94" dy="3.0" dx="0.6">1</tspan><tspan dy="-3.0" dx="0.3">PO</tspan></text>
<line x1="637.30" y1="342.00" x2="637.30" y2="347.00" stroke="#000" stroke-width="1.1" />
<text x="639.50" y="355.30" font-family='"Liberation Serif", serif' font-size="9.0" font-weight="bold" text-anchor="end" transform="rotate(-45 639.50 355.30)">F<tspan font-size="5.94" dy="3.0" dx="0.6">1</tspan><tspan dy="-3.0" dx="0.3">MO</tspan></text>
<line x1="665.70" y1="342.00" x2="665.70" y2="347.00" stroke="#000" stroke-width="1.1" />
<text x="667.90" y="355.30" font-family='"Liberation Serif", serif' font-size="9.0" font-weight="bold" text-anchor="end" transform="rotate(-45 667.90 355.30)">F<tspan font-size="5.94" dy="3.0" dx="0.6">1</tspan><tspan dy="-3.0" dx="0.3">OO</tspan></text>
<text x="546.00" y="281.30" font-family='"Liberation Serif", serif' font-size="8.6" font-weight="bold" text-anchor="middle" fill="#000" transform="rotate(-90 546.0 281.3)" letter-spacing="0.3">Serum Leptin (ng/mL)</text>
<text x="3.00" y="8.00" font-family='"Liberation Serif", serif' font-size="9.5" font-weight="bold" text-anchor="start" fill="#000" >a</text>
<text x="358.30" y="7.10" font-family='"Liberation Serif", serif' font-size="9.5" font-weight="bold" text-anchor="start" fill="#000" >b</text>
<text x="3.30" y="203.00" font-family='"Liberation Serif", serif' font-size="9.5" font-weight="bold" text-anchor="start" fill="#000" >c</text>
<text x="180.60" y="202.70" font-family='"Liberation Serif", serif' font-size="9.5" font-weight="bold" text-anchor="start" fill="#000" >d</text>
<text x="359.00" y="203.00" font-family='"Liberation Serif", serif' font-size="9.5" font-weight="bold" text-anchor="start" fill="#000" >e</text>
<text x="536.00" y="202.50" font-family='"Liberation Serif", serif' font-size="9.5" font-weight="bold" text-anchor="start" fill="#000" >f</text>
</svg>
</body></html>
